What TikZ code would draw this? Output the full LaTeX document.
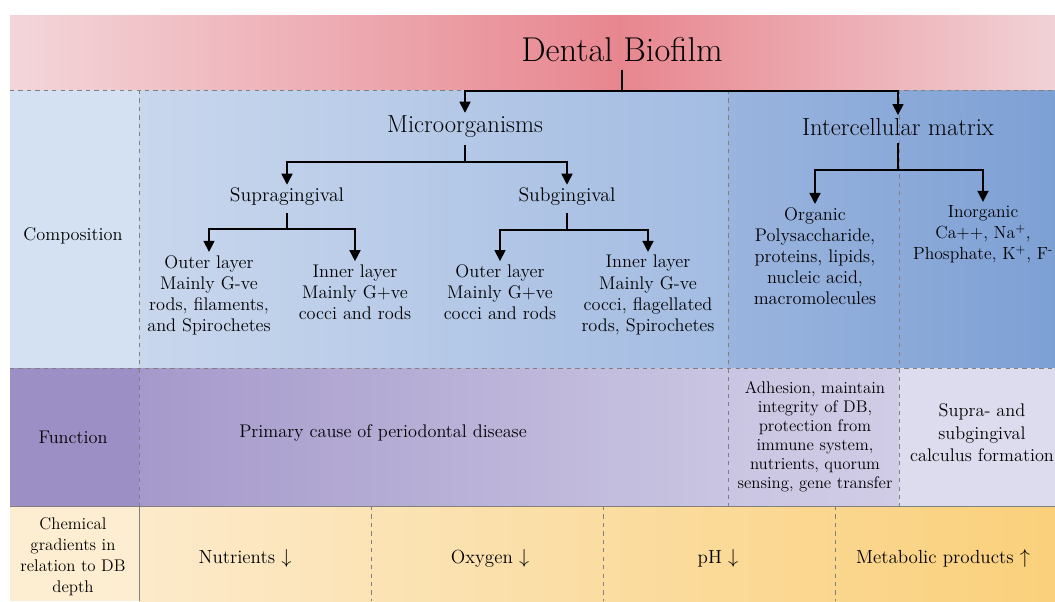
\documentclass[tikz,border=0pt]{standalone}
\usepackage{tikz}
\usetikzlibrary{arrows.meta}

\definecolor{hdedge}{HTML}{F3D6DA}
\definecolor{hdmid}{HTML}{E8868F}
\definecolor{hdright}{HTML}{F1D2D6}
\definecolor{cmplab}{HTML}{D4E1F2}
\definecolor{cmpa}{HTML}{C9D7ED}
\definecolor{cmpb}{HTML}{A3BCE2}
\definecolor{cmpc}{HTML}{9AB4DE}
\definecolor{cmpd}{HTML}{7DA0D4}
\definecolor{fnlab}{HTML}{9C8FC5}
\definecolor{fna}{HTML}{A599CB}
\definecolor{fnb}{HTML}{CAC5E2}
\definecolor{fnc}{HTML}{D0CCE6}
\definecolor{fnd}{HTML}{DDDCEE}
\definecolor{chlab}{HTML}{FDEDD1}
\definecolor{cha}{HTML}{FCEACA}
\definecolor{chb}{HTML}{FAD07B}

\begin{document}
\begin{tikzpicture}
  [x=0.025cm,y=-0.025cm,
   every node/.style={align=center,inner sep=2pt},
   title/.style={font=\fontsize{24.5}{29}\selectfont},
   branch/.style={font=\fontsize{17.5}{21}\selectfont},
   site/.style={font=\fontsize{14}{16}\selectfont},
   leaf/.style={font=\fontsize{13}{15}\selectfont},
   tiny/.style={font=\fontsize{12}{13.5}\selectfont},
   rowname/.style={font=\fontsize{13}{15}\selectfont},
   gradient/.style={font=\fontsize{13.5}{15}\selectfont},
   link/.style={line width=2.1pt,shorten <=3pt,-{Triangle[length=8pt,width=7.5pt]}},
   divider/.style={gray,dashed,line width=0.6pt}]
  \useasboundingbox (0,0) rectangle (1055,601);

  % bands
  \shade[left color=hdedge,right color=hdmid] (10,15) rectangle (620,90);
  \shade[left color=hdmid,right color=hdright] (620,15) rectangle (1055,90);
  \fill[cmplab] (10,90) rectangle (139,368);
  \shade[left color=cmpa,right color=cmpb] (139,90) rectangle (728,368);
  \shade[left color=cmpc,right color=cmpd] (728,90) rectangle (1055,368);
  \fill[fnlab] (10,368) rectangle (139,506);
  \shade[left color=fna,right color=fnb] (139,368) rectangle (728,506);
  \shade[left color=fnb,right color=fnc] (728,368) rectangle (899,506);
  \fill[fnd] (899,368) rectangle (1055,506);
  \fill[chlab] (10,506) rectangle (139,601);
  \shade[left color=cha,right color=chb] (139,506) rectangle (1055,601);

  % grid
  \draw[divider] (10,90) -- (1055,90);
  \draw[divider] (10,368) -- (1055,368);
  \draw[gray,line width=0.6pt] (10,506) -- (1055,506);
  \foreach \x in {139,728,899}
    \draw[divider] (\x,90) -- (\x,506);
  \draw[gray,line width=0.6pt] (139,506) -- (139,601);
  \foreach \x in {371,603,835}
    \draw[divider] (\x,506) -- (\x,601);

  % tree
  \node[title] (db) at (622,50) {Dental Biofilm};
  \node[branch] (micro) at (465,127) {Microorganisms};
  \node[branch] (matrix) at (898,127) {Intercellular matrix};
  \node[site] (supra) at (287,197) {Supragingival};
  \node[site] (subg) at (567,197) {Subgingival};
  \node[leaf] (supout) at (209,295) {Outer layer\\Mainly G-ve\\rods, filaments,\\and Spirochetes};
  \node[leaf] (supin) at (355,292) {Inner layer\\Mainly G+ve\\cocci and rods};
  \node[leaf] (subout) at (500,292) {Outer layer\\Mainly G+ve\\cocci and rods};
  \node[leaf] (subin) at (648,295) {Inner layer\\Mainly G-ve\\cocci, flagellated\\rods, Spirochetes};
  \node[leaf] (organic) at (815,256) {Organic\\Polysaccharide,\\proteins, lipids,\\nucleic acid,\\macromolecules};
  \node[leaf,font=\fontsize{12.5}{15}\selectfont] (inorganic) at (983,234) {Inorganic\\Ca++, Na\textsuperscript{+},\\Phosphate, K\textsuperscript{+}, F\textsuperscript{-}};

  \foreach \from/\to/\bar in {db/micro/91,db/matrix/91,micro/supra/162,micro/subg/162,
      supra/supout/229,supra/supin/229,subg/subout/230,subg/subin/230,
      matrix/organic/170,matrix/inorganic/170}
    \draw[link] (\from.south) -- (\from.south |- 0,\bar) -| (\to.north);

  % rows
  \node[rowname] (comp) at (73,236) {Composition};
  \node[rowname] (func) at (73,437) {Function};
  \node[rowname,font=\fontsize{12}{15}\selectfont] (chem) at (73,557) {Chemical\\gradients in\\relation to DB\\depth};

  \node[leaf] (primary) at (383,433) {Primary cause of periodontal disease};
  \node[tiny] (matrixfn) at (815,437) {Adhesion, maintain\\integrity of DB,\\protection from\\immune system,\\nutrients, quorum\\sensing, gene transfer};
  \node[site,font=\fontsize{13}{16}\selectfont] (calculus) at (982,433) {Supra- and\\subgingival\\calculus formation};

  \node[gradient] (nutr) at (245,558) {Nutrients $\downarrow$};
  \node[gradient] (oxy) at (490,558) {Oxygen $\downarrow$};
  \node[gradient] (ph) at (718,558) {pH $\downarrow$};
  \node[gradient] (meta) at (943,558) {Metabolic products $\uparrow$};
\end{tikzpicture}
\end{document}
